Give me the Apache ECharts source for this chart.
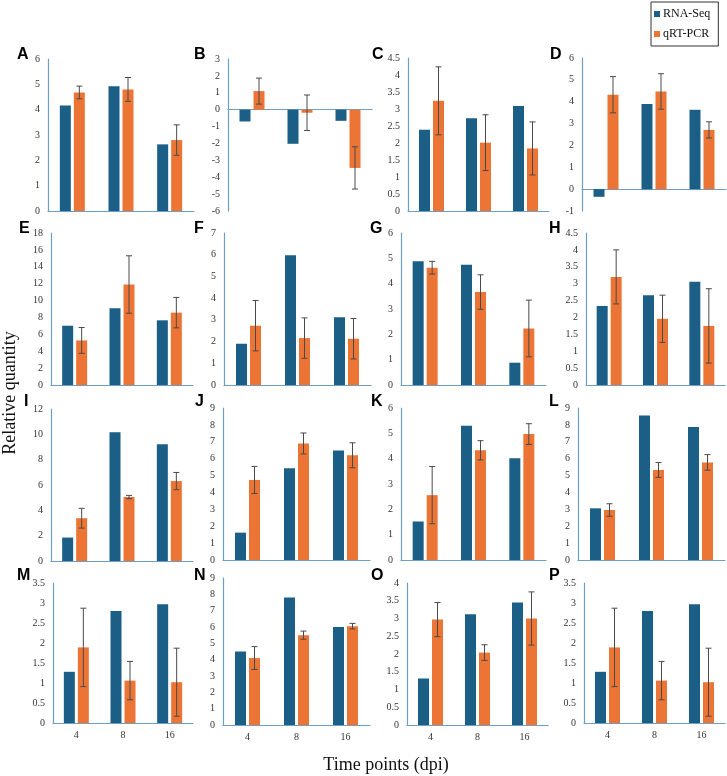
<!DOCTYPE html>
<html>
<head>
<meta charset="utf-8">
<script src="https://cdn.jsdelivr.net/npm/echarts@6/dist/echarts.min.js"></script>
<style>
html,body{margin:0;padding:0;background:#fff;}
#chart{width:727px;height:776px;}
</style>
</head>
<body>
<div id="chart"></div>
<script>
// ---------- data ----------
const categories = ['4', '8', '16'];
const panelNames = ['A','B','C','D','E','F','G','H','I','J','K','L','M','N','O','P'];

const rnaA = [4.16, 4.92, 2.63];  const pcrA = [4.68, 4.80, 2.80];  const errA = [0.25, 0.47, 0.60];
const rnaB = [-0.70, -2.02, -0.66]; const pcrB = [1.10, -0.18, -3.45]; const errB = [0.77, 1.05, 1.25];
const rnaC = [2.39, 2.73, 3.09];  const pcrC = [3.24, 2.01, 1.84];  const errC = [1.00, 0.82, 0.78];
const rnaD = [-0.35, 3.90, 3.63]; const pcrD = [4.32, 4.47, 2.71];  const errD = [0.83, 0.81, 0.37];
const rnaE = [7.02, 9.09, 7.66];  const pcrE = [5.28, 11.90, 8.57]; const errE = [1.53, 3.40, 1.80];
const rnaF = [1.90, 5.97, 3.12];  const pcrF = [2.73, 2.16, 2.13];  const errF = [1.16, 0.93, 0.93];
const rnaG = [4.88, 4.75, 0.88];  const pcrG = [4.63, 3.67, 2.23];  const errG = [0.25, 0.68, 1.12];
const rnaH = [2.34, 2.66, 3.06];  const pcrH = [3.20, 1.96, 1.75];  const errH = [0.80, 0.70, 1.10];
const rnaI = [1.85, 10.16, 9.21]; const pcrI = [3.38, 5.05, 6.31];  const errI = [0.78, 0.13, 0.68];
const rnaJ = [1.62, 5.43, 6.48];  const pcrJ = [4.74, 6.90, 6.20];  const errJ = [0.80, 0.62, 0.74];
const rnaK = [1.52, 5.30, 4.02];  const pcrK = [2.56, 4.33, 4.97];  const errK = [1.13, 0.38, 0.41];
const rnaL = [3.06, 8.55, 7.88];  const pcrL = [2.96, 5.33, 5.78];  const errL = [0.37, 0.44, 0.46];
const rnaM = [1.28, 2.80, 2.97];  const pcrM = [1.89, 1.06, 1.02];  const errM = [0.98, 0.48, 0.85];
const rnaN = [4.50, 7.80, 6.00];  const pcrN = [4.10, 5.50, 6.05];  const errN = [0.70, 0.25, 0.17];
const rnaO = [1.31, 3.12, 3.45];  const pcrO = [2.97, 2.04, 3.00];  const errO = [0.48, 0.22, 0.75];
const rnaP = [1.28, 2.80, 2.97];  const pcrP = [1.89, 1.06, 1.02];  const errP = [0.98, 0.48, 0.85];

// y-axis ticks per panel
const yMin  = [0, -6, 0, -1, 0, 0, 0, 0, 0, 0, 0, 0, 0, 0, 0, 0];
const yMax  = [6, 3, 4.5, 6, 18, 7, 6, 4.5, 12, 9, 6, 9, 3.5, 9, 4, 3.5];
const yStep = [1, 1, 0.5, 1, 2, 1, 1, 0.5, 2, 1, 1, 1, 0.5, 1, 0.5, 0.5];

const rnaAll = [rnaA,rnaB,rnaC,rnaD,rnaE,rnaF,rnaG,rnaH,rnaI,rnaJ,rnaK,rnaL,rnaM,rnaN,rnaO,rnaP];
const pcrAll = [pcrA,pcrB,pcrC,pcrD,pcrE,pcrF,pcrG,pcrH,pcrI,pcrJ,pcrK,pcrL,pcrM,pcrN,pcrO,pcrP];
const errAll = [errA,errB,errC,errD,errE,errF,errG,errH,errI,errJ,errK,errL,errM,errN,errO,errP];

// ---------- layout ----------
const boxes = [
  [48,59,146,152],[228,59,144,152],[408,58,141,153],[582,58,144,153],
  [51,233,142,152],[224,233,147,152],[401,233,145,152],[586,233,139,152],
  [51,409,142,152],[223,408,147,152],[401,408,145,152],[578,408,147,152],
  [53,583,140,140],[223,578,147,147],[407,583,141,142],[584,583,141,140]
];
const labelPos = [[17,55],[194,55],[372,55],[550,55],[19,229],[194,229],[370,229],[549,229],
  [24,402],[195,402],[371,402],[549,402],[17,576],[194,576],[371,576],[549,576]];

const BLUE = '#1b5e86', ORANGE = '#ec7535', AXIS = '#6d9ec4';
const BAR_W = 11, GAP_PX = 3;
const SERIF = '"Liberation Serif", "Times New Roman", serif';

const grid = [], xAxis = [], yAxis = [], series = [], graphic = [];
for (let i = 0; i < 16; i++) {
  const b = boxes[i];
  grid.push({left: b[0], top: b[1], width: b[2], height: b[3], containLabel: false});
  const bottomRow = i >= 12;
  xAxis.push({
    type: 'category', gridIndex: i, data: categories,
    axisTick: {show: false},
    axisLine: {show: true, onZero: true, lineStyle: {color: AXIS, width: 1.2}},
    axisLabel: {show: bottomRow, margin: 7, fontFamily: SERIF, fontSize: 10, color: '#333'},
    splitLine: {show: false}
  });
  yAxis.push({
    type: 'value', gridIndex: i, min: yMin[i], max: yMax[i], interval: yStep[i],
    axisLine: {show: true, lineStyle: {color: AXIS, width: 1.2}},
    axisTick: {show: false},
    splitLine: {show: false},
    axisLabel: {margin: 8, fontFamily: SERIF, fontSize: 10, color: '#333'}
  });
  series.push({
    name: 'RNA-Seq', type: 'bar', xAxisIndex: i, yAxisIndex: i,
    data: rnaAll[i], barWidth: BAR_W, barGap: (GAP_PX / BAR_W * 100) + '%',
    itemStyle: {color: BLUE}, silent: true
  });
  series.push({
    name: 'qRT-PCR', type: 'bar', xAxisIndex: i, yAxisIndex: i,
    data: pcrAll[i], barWidth: BAR_W, barGap: (GAP_PX / BAR_W * 100) + '%',
    itemStyle: {color: ORANGE}, silent: true
  });
  const pcr = pcrAll[i], err = errAll[i];
  series.push({
    name: 'err' + i, type: 'custom', xAxisIndex: i, yAxisIndex: i, z: 5, silent: true,
    data: categories.map((c, k) => [k, pcr[k], err[k]]),
    renderItem: function (params, api) {
      const k = api.value(0), v = api.value(1), e = api.value(2);
      const hi = api.coord([k, v + e]);
      const lo = api.coord([k, v - e]);
      const cx = hi[0] + (BAR_W + GAP_PX) / 2;
      const cap = 3;
      const st = {stroke: '#4a4a4a', lineWidth: 1};
      return {type: 'group', children: [
        {type: 'line', shape: {x1: cx, y1: hi[1], x2: cx, y2: lo[1]}, style: st},
        {type: 'line', shape: {x1: cx - cap, y1: hi[1], x2: cx + cap, y2: hi[1]}, style: st},
        {type: 'line', shape: {x1: cx - cap, y1: lo[1], x2: cx + cap, y2: lo[1]}, style: st}
      ]};
    }
  });
  graphic.push({
    type: 'text', x: labelPos[i][0], y: labelPos[i][1],
    style: {text: panelNames[i], font: 'bold 16px "Liberation Sans", Arial, sans-serif', fill: '#000', verticalAlign: 'middle'}
  });
}

graphic.push({
  type: 'text', x: 10, y: 393, rotation: Math.PI / 2,
  style: {text: 'Relative quantity', font: '18px ' + SERIF, fill: '#111', align: 'center', verticalAlign: 'middle'}
});
graphic.push({
  type: 'text', x: 386, y: 765,
  style: {text: 'Time points (dpi)', font: '18px ' + SERIF, fill: '#111', align: 'center', verticalAlign: 'middle'}
});

const chart = echarts.init(document.getElementById('chart'), null, {renderer: 'canvas'});
chart.setOption({
  animation: false,
  backgroundColor: '#fff',
  grid, xAxis, yAxis, series, graphic,
  legend: {
    data: ['RNA-Seq', 'qRT-PCR'],
    orient: 'vertical', left: 651, top: 2,
    icon: 'rect', itemWidth: 6, itemHeight: 6, itemGap: 8,
    padding: [6, 8, 6, 3],
    borderColor: '#333', borderWidth: 1,
    textStyle: {fontFamily: SERIF, fontSize: 12, color: '#111', padding: [0, 0, 0, -2]}
  }
});
</script>
</body>
</html>
